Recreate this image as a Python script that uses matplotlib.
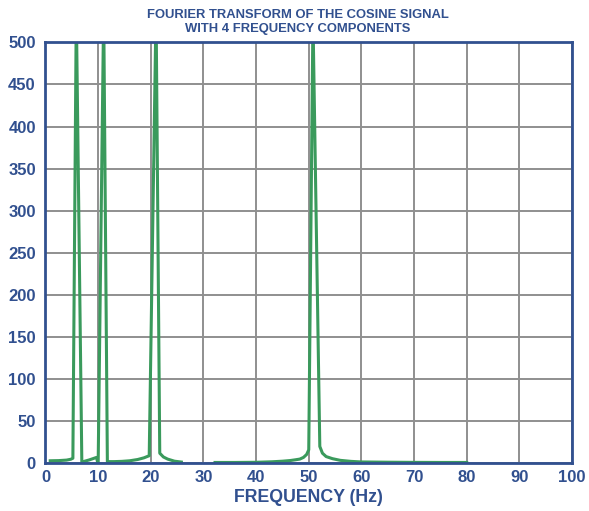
import numpy as np
import matplotlib
matplotlib.use("Agg")
import matplotlib.pyplot as plt

plt.rcParams['font.family'] = ['Liberation Sans', 'DejaVu Sans']

# Segment 1 (roughly 1 - 26 Hz): three spikes near 6, 11, 21 Hz
freq_a = [0.9, 2.5, 4.0, 4.8, 5.2, 5.85, 6.9, 8.3, 9.7, 10.0, 11.05, 11.75,
          13.0, 14.5, 16.0, 17.5, 18.7, 19.7, 21.0, 21.7, 22.4, 23.2, 24.5, 25.8]
mag_a = [3, 3.2, 3.8, 4.8, 6, 540, 1.5, 4, 7, -2, 540, 2,
         2, 2.3, 3, 4.5, 6.5, 9, 540, 12, 7.5, 5, 2.5, 1.5]

# Segment 2 (roughly 32 - 80 Hz): spike near 51 Hz
freq_b = [32.2, 36, 40, 43, 45, 46.5, 47.5, 48.3, 49.0, 49.6, 50.0, 50.8,
          52.1, 52.6, 53.3, 54.5, 56, 58, 60, 65, 70, 75, 80]
mag_b = [1, 1, 1.2, 1.8, 2.5, 3.3, 4.2, 5, 7, 10.5, 16, 530,
         20, 12, 8, 5.5, 3.5, 2.3, 1.6, 1.3, 1.1, 1.0, 1.0]

x_ticks = [0, 10, 20, 30, 40, 50, 60, 70, 80, 90, 100]
y_ticks = [0, 50, 100, 150, 200, 250, 300, 350, 400, 450, 500]

title_lines = ["FOURIER TRANSFORM OF THE COSINE SIGNAL",
               "WITH 4 FREQUENCY COMPONENTS"]
x_label = "FREQUENCY (Hz)"

BLUE = '#31508f'
GREEN = '#3a9a5c'
GRID = '#8f8f8f'

fig = plt.figure(figsize=(5.89, 5.11), dpi=100)
ax = fig.add_axes([45.5 / 589, 1 - 463.3 / 511, (572 - 45.5) / 589, (463.3 - 42.3) / 511])

ax.plot(freq_a, mag_a, color=GREEN, lw=2.2, solid_joinstyle='round', zorder=3)
ax.plot(freq_b, mag_b, color=GREEN, lw=2.2, solid_joinstyle='round', zorder=3)

ax.set_xlim(0, 100)
ax.set_ylim(0, 500)
ax.set_xticks(x_ticks)
ax.set_yticks(y_ticks)
ax.grid(True, color=GRID, lw=1.4, zorder=1)
ax.set_axisbelow(True)
ax.tick_params(length=0, labelsize=12, labelcolor=BLUE)
ax.tick_params(axis='x', pad=5)
ax.tick_params(axis='y', pad=7)
for lab in ax.get_xticklabels() + ax.get_yticklabels():
    lab.set_fontweight('bold')
for s in ax.spines.values():
    s.set_color(BLUE)
    s.set_linewidth(2.0)
    s.set_zorder(4)

fig.text(308.5 / 589, 1 - 497 / 511, x_label, ha='center', va='center',
         fontsize=12.8, fontweight='bold', color=BLUE)

fig.text(298 / 589, 1 - 14.5 / 511, title_lines[0], ha='center', va='center',
         fontsize=9.4, fontweight='bold', color=BLUE)
fig.text(298 / 589, 1 - 29 / 511, title_lines[1], ha='center', va='center',
         fontsize=9.4, fontweight='bold', color=BLUE)

fig.savefig('out.png', dpi=100)
